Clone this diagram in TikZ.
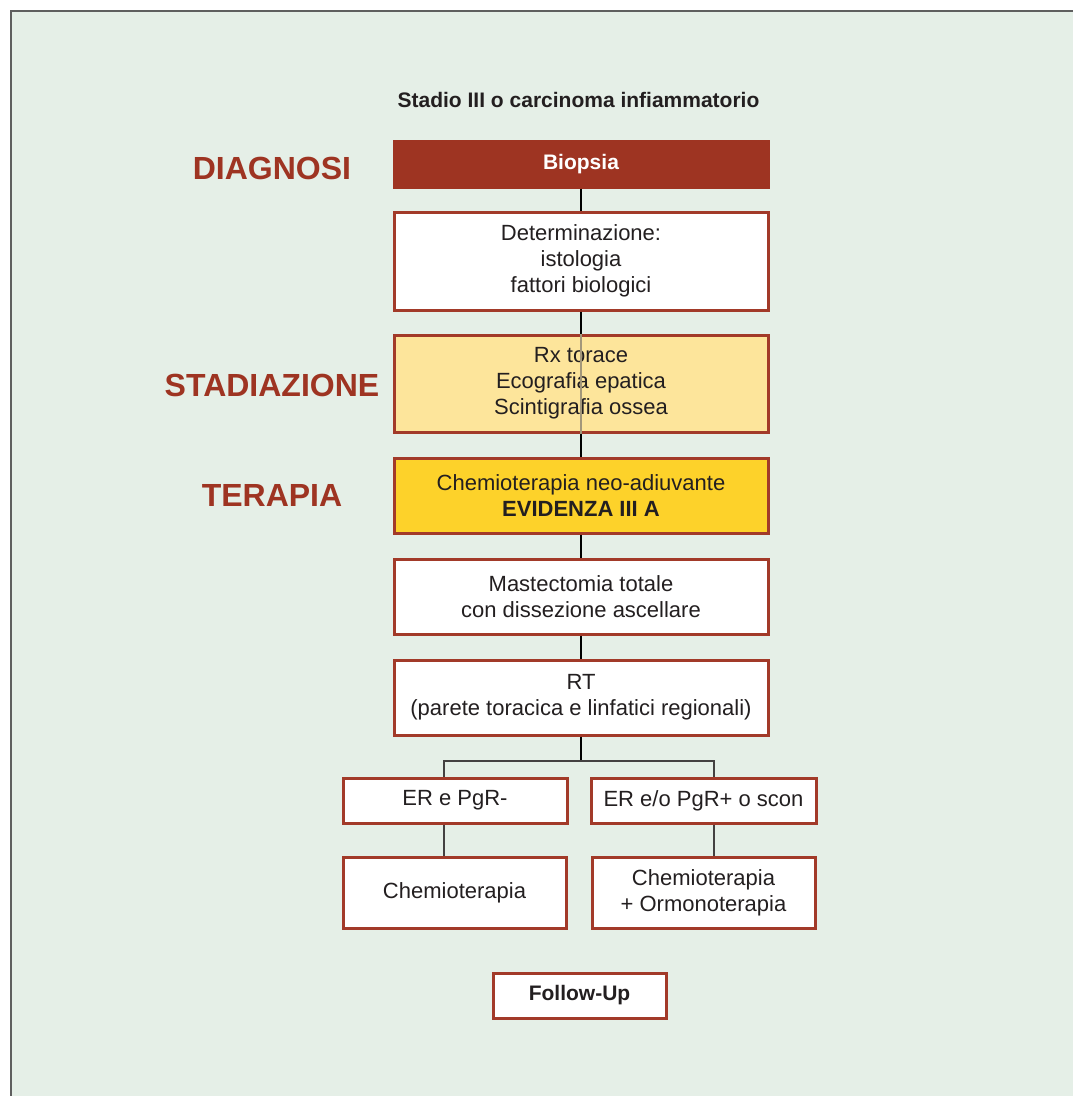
\documentclass[tikz,border=0pt]{standalone}
\usepackage{fontspec}
\setmainfont{Liberation Sans}
\definecolor{bgcol}{HTML}{E5EFE7}
\definecolor{framecol}{HTML}{5F5F5F}
\definecolor{darkred}{HTML}{9E3422}
\definecolor{edgered}{HTML}{A23A29}
\definecolor{paleyellow}{HTML}{FDE59B}
\definecolor{gold}{HTML}{FDD22A}
\definecolor{ink}{HTML}{231F20}
\definecolor{seethrough}{HTML}{A3977A}
\tikzset{
  box/.style={draw=edgered, line width=3pt, fill=white, rectangle, inner sep=0pt,
    align=center, text=ink, font=\fontsize{22}{26}\selectfont},
  headbox/.style={box, fill=darkred, draw=darkred, text=white,
    font=\fontsize{21}{26}\selectfont\bfseries},
  phase/.style={text=darkred, font=\fontsize{32}{36}\selectfont\bfseries},
  link/.style={draw=black, line width=2pt},
  branch/.style={draw=ink!85, line width=1.5pt}
}
\begin{document}
\begin{tikzpicture}[x=1pt, y=-1pt]
\useasboundingbox (0,0) rectangle (1073,1096);
\clip (0,0) rectangle (1073,1096);
\fill[white] (0,0) rectangle (1073,1096);
% panel
\draw[framecol, line width=2pt, fill=bgcol] (11,11) rectangle (1090,1110);

% title and phase labels
\node[text=ink, font=\fontsize{21}{26}\selectfont\bfseries] (title) at (578.5,100) {Stadio III o carcinoma infiammatorio};
\node[phase] (diagnosi) at (272,168) {DIAGNOSI};
\node[phase] (stadiazione) at (272,385) {STADIAZIONE};
\node[phase] (terapia) at (272,495) {TERAPIA};

% main column
\node[headbox, minimum width=374pt, minimum height=46pt] (bio) at (581,164) {Biopsia};
\node[box, minimum width=374pt, minimum height=98pt] (det) at (581,261) {Determinazione:\\istologia\\fattori biologici};
\node[box, fill=paleyellow, minimum width=374pt, minimum height=97pt] (stad) at (581,383.5) {Rx torace\\Ecografia epatica\\Scintigrafia ossea};
\node[box, fill=gold, minimum width=374pt, minimum height=75pt] (chemo) at (581,495.5) {Chemioterapia neo-adiuvante\\\textbf{EVIDENZA III A}};
\node[box, minimum width=374pt, minimum height=75pt] (mast) at (581,596.5) {Mastectomia totale\\con dissezione ascellare};
\node[box, minimum width=374pt, minimum height=75pt] (rt) at (581,697.5) {RT\\(parete toracica e linfatici regionali)};

% branches
\node[box, minimum width=224pt, minimum height=45pt] (erneg) at (455,800.5) {ER e PgR-};
\node[box, minimum width=225pt, minimum height=45pt] (erpos) at (703.5,800.5) {ER e/o PgR+ o scon};
\node[box, minimum width=223pt, minimum height=71pt] (chemoonly) at (454.5,892.5) {Chemioterapia};
\node[box, minimum width=223pt, minimum height=71pt] (chemoormo) at (703.5,892.5) {Chemioterapia\\+ Ormonoterapia};
\node[box, minimum width=173pt, minimum height=45pt, font=\fontsize{21}{26}\selectfont\bfseries] (follow) at (579.5,995.5) {Follow-Up};

% connectors
\draw[link] (bio.south) -- (det.north);
\draw[link] (det.south) -- (stad.north);
\draw[seethrough, line width=1.5pt] (stad.north) -- (stad.south);
\draw[link] (stad.south) -- (chemo.north);
\draw[link] (chemo.south) -- (mast.north);
\draw[link] (mast.south) -- (rt.north);

\coordinate (split) at (581,761);
\coordinate (bl) at (444,761);
\coordinate (br) at (714,761);
\draw[link] (rt.south) -- (split);
\draw[branch] (bl |- erneg.north) -- (bl) -- (br) -- (br |- erpos.north);
\draw[branch] (bl |- erneg.south) -- (bl |- chemoonly.north);
\draw[branch] (br |- erpos.south) -- (br |- chemoormo.north);
\end{tikzpicture}
\end{document}
